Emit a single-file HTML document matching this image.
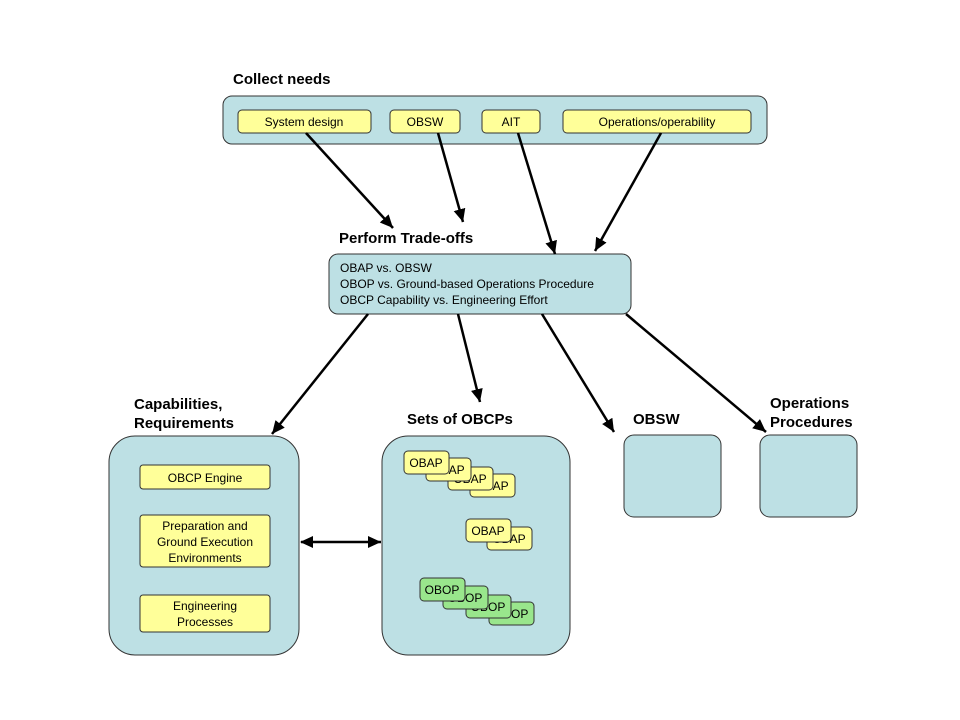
<!DOCTYPE html>
<html><head><style>body{margin:0;background:#fff}svg{display:block;font-family:"Liberation Sans",Arial,sans-serif}</style></head><body>
<svg width="960" height="720" viewBox="0 0 960 720">
<defs><marker id="a" markerWidth="14" markerHeight="14" refX="13" refY="6" orient="auto" markerUnits="userSpaceOnUse"><path d="M0,0 L13,6 L0,12 Z" fill="#000"/></marker>
<marker id="b" markerWidth="14" markerHeight="14" refX="1" refY="6" orient="auto" markerUnits="userSpaceOnUse"><path d="M13,0 L0,6 L13,12 Z" fill="#000"/></marker></defs>
<g fill="#bde0e4" stroke="#333" stroke-width="1">
<rect x="223" y="96" width="544" height="48" rx="9"/>
<rect x="329" y="254" width="302" height="60" rx="9"/>
<rect x="109" y="436" width="190" height="219" rx="26"/>
<rect x="382" y="436" width="188" height="219" rx="26"/>
<rect x="624" y="435" width="97" height="82" rx="10"/>
<rect x="760" y="435" width="97" height="82" rx="10"/>
</g>
<g fill="#ffff99" stroke="#333">
<rect x="238" y="110" width="133" height="23" rx="4"/>
<rect x="390" y="110" width="70" height="23" rx="4"/>
<rect x="482" y="110" width="58" height="23" rx="4"/>
<rect x="563" y="110" width="188" height="23" rx="4"/>
<rect x="140" y="465" width="130" height="24" rx="3"/>
<rect x="140" y="515" width="130" height="52" rx="3"/>
<rect x="140" y="595" width="130" height="37" rx="3"/>
</g>
<g font-size="12" text-anchor="middle" fill="#000">
<text x="304" y="126">System design</text><text x="425" y="126">OBSW</text><text x="511" y="126">AIT</text><text x="657" y="126">Operations/operability</text>
<text x="205" y="482">OBCP Engine</text>
<text x="205" y="530">Preparation and</text><text x="205" y="546">Ground Execution</text><text x="205" y="562">Environments</text>
<text x="205" y="610">Engineering</text><text x="205" y="626">Processes</text>
</g>
<g font-size="12" fill="#000"><text x="340" y="272">OBAP vs. OBSW</text><text x="340" y="288">OBOP vs. Ground-based Operations Procedure</text><text x="340" y="304">OBCP Capability vs. Engineering Effort</text></g>
<g font-size="12" text-anchor="middle" fill="#000">
<rect x="470" y="474" width="45" height="23" rx="4" fill="#ffff99" stroke="#333"/><text x="492" y="490">OBAP</text>
<rect x="448" y="467" width="45" height="23" rx="4" fill="#ffff99" stroke="#333"/><text x="470" y="483">OBAP</text>
<rect x="426" y="458" width="45" height="23" rx="4" fill="#ffff99" stroke="#333"/><text x="448" y="474">OBAP</text>
<rect x="404" y="451" width="45" height="23" rx="4" fill="#ffff99" stroke="#333"/><text x="426" y="467">OBAP</text>
<rect x="487" y="527" width="45" height="23" rx="4" fill="#ffff99" stroke="#333"/><text x="509" y="543">OBAP</text>
<rect x="466" y="519" width="45" height="23" rx="4" fill="#ffff99" stroke="#333"/><text x="488" y="535">OBAP</text>
<rect x="489" y="602" width="45" height="23" rx="4" fill="#99e68c" stroke="#333"/><text x="511" y="618">OBOP</text>
<rect x="466" y="595" width="45" height="23" rx="4" fill="#99e68c" stroke="#333"/><text x="488" y="611">OBOP</text>
<rect x="443" y="586" width="45" height="23" rx="4" fill="#99e68c" stroke="#333"/><text x="465" y="602">OBOP</text>
<rect x="420" y="578" width="45" height="23" rx="4" fill="#99e68c" stroke="#333"/><text x="442" y="594">OBOP</text>
</g>
<g stroke="#000" stroke-width="2.5" marker-end="url(#a)">
<line x1="306" y1="133" x2="393" y2="228"/>
<line x1="438" y1="133" x2="463" y2="222"/>
<line x1="518" y1="133" x2="555" y2="254"/>
<line x1="661" y1="133" x2="595" y2="251"/>
<line x1="368" y1="314" x2="272" y2="434"/>
<line x1="458" y1="314" x2="480" y2="402"/>
<line x1="542" y1="314" x2="614" y2="432"/>
<line x1="626" y1="314" x2="766" y2="432"/>
<line x1="301" y1="542" x2="381" y2="542" marker-start="url(#b)"/>
</g>
<g font-size="15" font-weight="bold" fill="#000">
<text x="233" y="84">Collect needs</text>
<text x="339" y="243">Perform Trade-offs</text>
<text x="134" y="409">Capabilities,</text><text x="134" y="428">Requirements</text>
<text x="407" y="424">Sets of OBCPs</text>
<text x="633" y="424">OBSW</text>
<text x="770" y="408">Operations</text><text x="770" y="427">Procedures</text>
</g>
</svg>
</body></html>
